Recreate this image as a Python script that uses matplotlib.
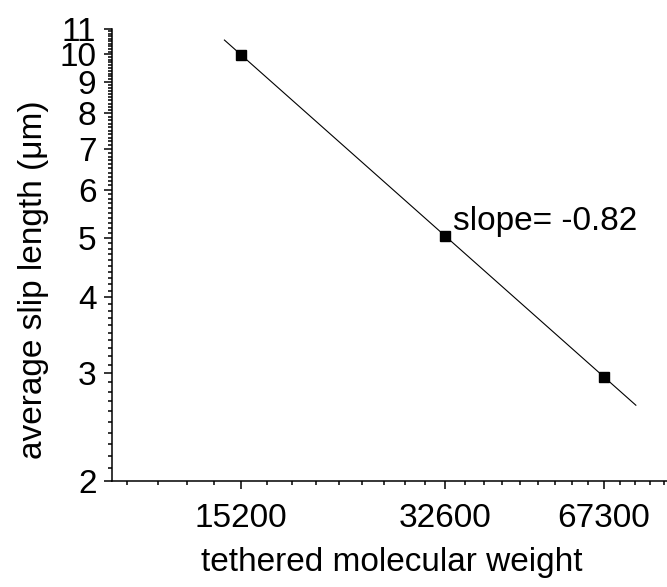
import numpy as np
import matplotlib
matplotlib.use('Agg')
import matplotlib.pyplot as plt
from matplotlib.ticker import FixedLocator, NullFormatter

plt.rcParams['font.family'] = ['Liberation Sans', 'DejaVu Sans']

# data: axis position of each sample, its molecular weight label, slip length
x_pos = [3, 4, 5]
mw_labels = ['15200', '32600', '67300']
slip = [9.97, 5.04, 2.96]
fit_range = [2.93, 5.23]
slope_text = 'slope= -0.82'

fig = plt.figure(figsize=(6.67, 5.87), dpi=100)
ax = fig.add_axes([0.1675, 0.1806, 0.8394, 0.770])

# power law fit in log-log space
k, b = np.polyfit(np.log10(x_pos), np.log10(slip), 1)
xf = np.array(fit_range)
ax.plot(xf, 10**(b + k*np.log10(xf)), color='k', lw=0.8)
ax.plot(x_pos, slip, 's', color='k', ms=6.5)

ax.set_xscale('log')
ax.set_yscale('log')
ax.set_xlim(2.5, 5.5)
ax.set_ylim(2, 11)

ax.xaxis.set_major_locator(FixedLocator(x_pos))
ax.set_xticklabels(mw_labels)
xminor = [v for v in np.arange(2, 6, 1/9) if min(abs(v - p) for p in x_pos) > 1e-6]
ax.xaxis.set_minor_locator(FixedLocator(xminor))
ax.xaxis.set_minor_formatter(NullFormatter())

yticks = list(range(2, 12))
ax.yaxis.set_major_locator(FixedLocator(yticks))
ax.set_yticklabels([str(v) for v in yticks])
yminor = [v for v in np.arange(2, 11.01, 0.1) if abs(v - round(v)) > 1e-6]
ax.yaxis.set_minor_locator(FixedLocator(yminor))
ax.yaxis.set_minor_formatter(NullFormatter())

for s in ['top', 'right']:
    ax.spines[s].set_visible(False)
for s in ['left', 'bottom']:
    ax.spines[s].set_linewidth(1.1)

ax.tick_params(which='major', direction='out', length=6, width=1.1, labelsize=24, pad=5)
ax.tick_params(which='minor', direction='out', length=3, width=1.1)
ax.tick_params(axis='x', which='major', pad=10)

ax.set_xlabel('tethered molecular weight', fontsize=24, labelpad=9)
ax.set_ylabel('average slip length (\u03bcm)', fontsize=24)
ax.yaxis.set_label_coords(-0.112, 0.445)

ax.text(x_pos[1] * 1.011, 5.15, slope_text, fontsize=24, ha='left', va='baseline')

fig.savefig('out.png', dpi=100)
